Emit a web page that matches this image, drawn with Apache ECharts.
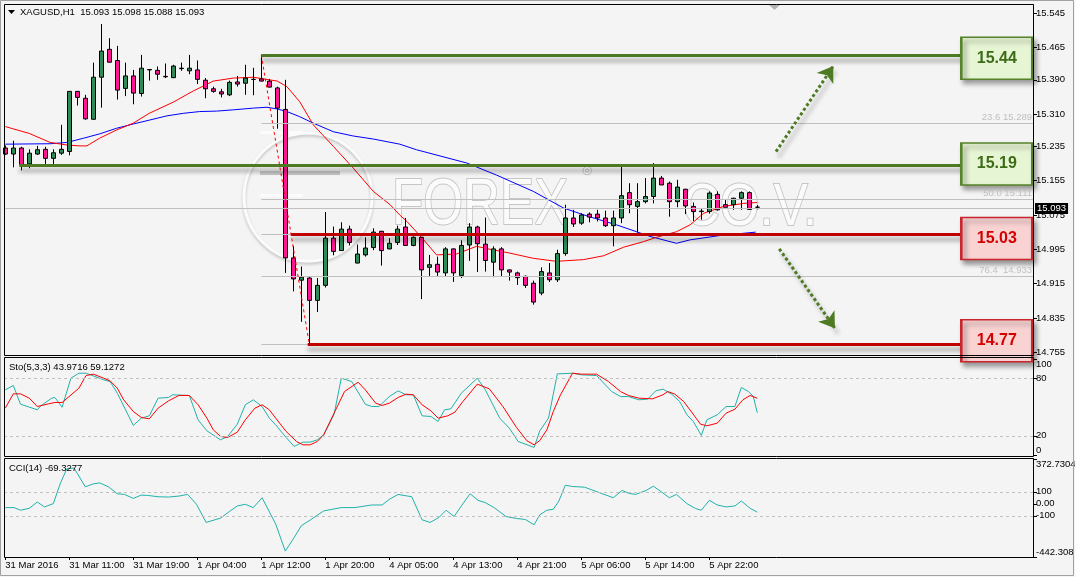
<!DOCTYPE html>
<html>
<head>
<meta charset="utf-8">
<script src="https://cdn.jsdelivr.net/npm/echarts@6.0.0/dist/echarts.min.js"></script>
<style>
  html, body { margin: 0; padding: 0; background: #f4f4f4; }
  #chart { width: 1075px; height: 577px; }
</style>
</head>
<body>
<div id="chart"></div>
<script>
// H1 bars, one row per bar: [open, high, low, close]
const ohlc = [
  [15.231, 15.237, 15.215, 15.217], [15.217, 15.248, 15.186, 15.231], [15.231, 15.234, 15.179, 15.192],
  [15.194, 15.228, 15.184, 15.219], [15.217, 15.236, 15.215, 15.227], [15.228, 15.234, 15.194, 15.207],
  [15.207, 15.228, 15.194, 15.220], [15.219, 15.285, 15.215, 15.228], [15.223, 15.363, 15.214, 15.363],
  [15.363, 15.364, 15.330, 15.349], [15.347, 15.355, 15.297, 15.299], [15.298, 15.430, 15.297, 15.396],
  [15.396, 15.520, 15.325, 15.457], [15.461, 15.487, 15.430, 15.431], [15.435, 15.469, 15.344, 15.366],
  [15.370, 15.430, 15.352, 15.399], [15.399, 15.413, 15.333, 15.359], [15.358, 15.448, 15.351, 15.417],
  [15.414, 15.414, 15.388, 15.413], [15.412, 15.421, 15.390, 15.403], [15.398, 15.428, 15.394, 15.397],
  [15.395, 15.425, 15.394, 15.422], [15.416, 15.430, 15.411, 15.417], [15.411, 15.448, 15.403, 15.417],
  [15.413, 15.435, 15.380, 15.391], [15.389, 15.394, 15.347, 15.369], [15.369, 15.374, 15.360, 15.363],
  [15.362, 15.369, 15.349, 15.357], [15.355, 15.388, 15.352, 15.384], [15.385, 15.399, 15.374, 15.380],
  [15.382, 15.425, 15.355, 15.394], [15.391, 15.418, 15.354, 15.391], [15.392, 15.448, 15.386, 15.387],
  [15.387, 15.392, 15.372, 15.373], [15.371, 15.374, 15.276, 15.324], [15.321, 15.390, 14.940, 14.975],
  [14.975, 15.003, 14.897, 14.926], [14.923, 14.955, 14.826, 14.930], [14.928, 14.930, 14.774, 14.876],
  [14.876, 14.928, 14.849, 14.911], [14.911, 15.082, 14.906, 15.021], [15.021, 15.048, 14.981, 14.990],
  [14.992, 15.058, 14.992, 15.042], [15.042, 15.050, 15.004, 15.011], [14.963, 15.006, 14.962, 14.984],
  [14.982, 15.023, 14.978, 14.998], [14.999, 15.044, 14.993, 15.035], [15.037, 15.038, 14.957, 14.992],
  [14.996, 15.021, 14.995, 15.009], [15.011, 15.050, 15.005, 15.042], [15.047, 15.068, 15.003, 15.004],
  [15.004, 15.025, 15.002, 15.023], [15.023, 15.024, 14.879, 14.947], [14.953, 14.982, 14.933, 14.959],
  [14.960, 14.978, 14.933, 14.942], [14.940, 15.000, 14.932, 14.996], [14.996, 14.997, 14.919, 14.940],
  [14.934, 15.016, 14.928, 15.004], [15.005, 15.056, 14.968, 15.047], [15.047, 15.050, 14.942, 15.008],
  [15.007, 15.069, 14.943, 14.969], [14.965, 15.002, 14.930, 14.996], [14.996, 15.000, 14.932, 14.947],
  [14.947, 14.948, 14.922, 14.942], [14.940, 14.943, 14.912, 14.929], [14.932, 14.934, 14.905, 14.911],
  [14.916, 14.922, 14.866, 14.872], [14.893, 14.953, 14.888, 14.943], [14.940, 14.963, 14.919, 14.924],
  [14.924, 14.994, 14.919, 14.985], [14.985, 15.099, 14.980, 15.068], [15.068, 15.087, 15.047, 15.054],
  [15.056, 15.079, 15.052, 15.075], [15.077, 15.081, 15.058, 15.070], [15.077, 15.087, 15.060, 15.068],
  [15.068, 15.085, 15.047, 15.050], [15.050, 15.085, 15.002, 15.068], [15.068, 15.188, 15.056, 15.120],
  [15.127, 15.149, 15.079, 15.099], [15.095, 15.149, 15.034, 15.106], [15.106, 15.161, 15.102, 15.118],
  [15.118, 15.196, 15.102, 15.161], [15.161, 15.166, 15.145, 15.145], [15.149, 15.153, 15.071, 15.106],
  [15.106, 15.157, 15.093, 15.140], [15.135, 15.136, 15.077, 15.096], [15.095, 15.104, 15.061, 15.083],
  [15.083, 15.091, 15.064, 15.084], [15.083, 15.130, 15.078, 15.126], [15.123, 15.130, 15.085, 15.087],
  [15.099, 15.112, 15.093, 15.093], [15.099, 15.115, 15.087, 15.114], [15.114, 15.130, 15.087, 15.127],
  [15.127, 15.130, 15.087, 15.088], [15.093, 15.098, 15.088, 15.093]
];

// moving averages, [bar, price]
const maFast = [[0,15.281],[3,15.265],[5.6,15.244],[7.7,15.238],[9.3,15.236],[10.2,15.236],[11.8,15.254],
  [13.9,15.273],[16,15.289],[18,15.312],[21,15.338],[23.5,15.364],[26,15.387],[28.5,15.394],[31,15.396],
  [34,15.387],[35.2,15.374],[36.8,15.339],[38.5,15.285],[41,15.235],[43.5,15.184],[46,15.13],[48.1,15.099],
  [49.3,15.075],[50.2,15.06],[52.3,15.017],[53.9,14.982],[56.4,14.984],[58.9,15.002],[60.6,14.995],
  [63.1,14.986],[66,14.974],[68.9,14.967],[72.3,14.971],[74.8,14.98],[77.3,15.0],[79.8,15.013],[81.4,15.023],
  [83.9,15.036],[85.6,15.052],[87.3,15.079],[89.8,15.095],[92.3,15.102],[94,15.104]];
const maSlow = [[0,15.24],[5.6,15.241],[7.7,15.244],[9.8,15.254],[11.8,15.264],[13.9,15.277],[16,15.287],
  [18,15.296],[20.2,15.306],[22.3,15.312],[24.3,15.316],[26.4,15.317],[28.5,15.32],[31,15.324],[32.7,15.326],
  [34,15.322],[35.2,15.316],[36.8,15.304],[38.5,15.289],[41,15.269],[43.5,15.259],[46,15.252],[49.3,15.24],
  [51.4,15.227],[57.7,15.196],[61.4,15.168],[66,15.13],[69.8,15.091],[73,15.071],[76.4,15.052],[78.9,15.036],
  [80.6,15.025],[83.9,15.009],[85.6,15.017],[89.3,15.027],[93.8,15.035]];

// Stochastic(5,3,3)
const stochMain = [[0,67.9],[1,72.4],[1.9,52.9],[4,47.1],[4.5,51.6],[5.8,59.2],[6.2,59.9],[7.1,49.8],[8.2,80],
  [9.2,85.2],[10.1,85.2],[12.3,78.3],[13.1,76.5],[14,64.4],[16,30.8],[17,38.4],[18,40.8],[19.1,59.2],[20.4,59.9],
  [20.9,62.7],[23,62],[24.1,36.6],[25.2,25.2],[26.9,15.8],[27.8,19.3],[29,32.1],[30,52.3],[31,57.5],[32.1,50.5],
  [33,38.4],[33.8,31.4],[35.1,18.3],[36.1,8.9],[37.2,13.4],[38.1,13.4],[39,15.8],[39.8,21],[41.1,42.5],[42,80],
  [43.3,76.5],[45,52.9],[45.8,50.5],[46.7,50.5],[48,60.9],[49.1,66.8],[50.1,62.7],[51,62.7],[52.1,40.8],
  [53.2,40.1],[54.1,34.9],[54.9,47.1],[55.7,48.1],[57,64.4],[59,80],[60,67.9],[61.8,38.4],[63,28],[64.1,14.1],
  [66.1,7.9],[66.8,25],[67.9,38.4],[69,84.5],[70.9,85.2],[72,83.5],[73.9,82.8],[75.8,66.1],[76.9,60.9],
  [77.9,60.9],[79.2,57.5],[80.3,58.2],[81.3,66.8],[82.2,68.6],[83.3,63.4],[84.3,55.7],[85.2,41.9],[86,34.9],
  [87,20.4],[87.7,36.6],[89,41.9],[90.1,50.5],[91.2,50.5],[92,70.3],[92.9,66.1],[93.5,60.9],[94,43.97]];
const stochSignal = [[0,48.8],[1,63.7],[1.9,63.7],[3,59.2],[4,50.5],[5.4,53.3],[6.2,54.7],[7.1,54.7],[9.2,69.6],
  [10.1,82.8],[11,84.2],[12.3,80],[13.1,77.2],[14,69.6],[14.8,57.5],[16,45.3],[17,39.1],[18,37.7],[19.1,48.8],
  [20.4,56.4],[21.7,62],[23,62],[24.1,52.3],[25.2,38.4],[26,26.2],[26.9,19.3],[27.8,18.3],[29,23.8],[30,36.6],
  [31.2,48.8],[32.1,52.3],[33,47.1],[33.8,38.4],[35.1,24.5],[36.4,14.1],[37.2,10.6],[38.1,10.6],[39,14.1],
  [39.8,21],[41.1,43.6],[42.4,66.1],[44.1,75.8],[45,67.9],[46.3,54],[47.1,51.6],[48,54],[49.1,59.9],[50.1,63.4],
  [51,62.7],[52.1,52.3],[53.2,46],[54.1,38.4],[55.3,40.8],[56.2,44.6],[57.2,55.7],[59,73.8],[60.5,68.9],
  [62.2,50.5],[63.9,28.7],[65.2,14.8],[66.1,10.6],[66.8,15],[67.7,26.2],[68.5,45.3],[69.4,62.7],[70.9,85.2],
  [72,84.2],[73.9,84.2],[75.4,76.5],[76.9,66.1],[77.9,62],[79.2,59.2],[80.9,58.5],[82.2,62.7],[82.8,66.1],
  [83.7,63.4],[84.8,55.7],[85.8,44.6],[86.9,32.1],[87.7,30.4],[89,33.2],[90.1,43.6],[91.2,47.7],[92.2,57.5],
  [93.1,62],[94,59.13]];

// CCI(14)
const cci = [[0,-31.5],[1.1,-31.5],[1.9,-53.4],[3,-37],[4,15.1],[4.9,-26],[6,1.4],[6.9,174],[7.7,291.8],
  [8.6,297.3],[10,141.1],[11,165.8],[11.8,174],[12.9,141.1],[14,83.6],[14.9,78.1],[16,45.2],[17,72.6],[17.8,69.9],
  [19.1,58.9],[20.4,56.2],[21.7,64.4],[22.8,78.1],[23.9,-4.1],[25.1,-154.8],[26.9,-119.2],[28,-64.4],[29,-17.8],
  [30,-4.1],[31,-31.5],[32.1,50.7],[33.8,-168.5],[35,-393.2],[36,-291.8],[37,-182.2],[38.1,-135.6],[39.8,-58.9],
  [42,-31.5],[43.7,-31.5],[45.8,-9.6],[47.1,-9.6],[48,37],[49.1,78.1],[50.8,58.9],[52.1,-132.9],[53.1,-154.8],
  [54.2,-113.7],[55.1,-53.4],[56.1,-105.5],[57,-17.8],[58.1,83.6],[59.1,28.8],[60,9.6],[61.1,-31.5],
  [62.6,-105.5],[63.9,-121.9],[65,-130.2],[66.1,-174],[66.8,-91.8],[67.7,-53.4],[68.5,-45.2],[69.2,23.3],
  [70,154.8],[70.9,143.8],[72.4,138.4],[74.3,91.8],[76,50.7],[77.1,111],[78,86.3],[78.8,78.1],[80.1,111],
  [81,146.6],[82,100],[83,50.7],[83.9,78.1],[85.2,1.4],[86.3,-39.7],[87,-53.4],[88,28.8],[89,-9.6],[90.1,-26],
  [91.2,-17.8],[92,23.3],[93.1,-37],[94,-69.33]];

// axes
const timeTickBars = [0, 8, 16, 24, 32, 40, 48, 56, 64, 72, 80, 88];
const timeTickLabels = ['31 Mar 2016', '31 Mar 11:00', '31 Mar 19:00', '1 Apr 04:00', '1 Apr 12:00', '1 Apr 20:00',
  '4 Apr 05:00', '4 Apr 13:00', '4 Apr 21:00', '5 Apr 06:00', '5 Apr 14:00', '5 Apr 22:00'];
const priceTicks = [14.755, 14.835, 14.915, 14.995, 15.075, 15.155, 15.235, 15.310, 15.390, 15.465, 15.545];
const stochTicks = [0, 20, 80, 100];
const cciTicks = [-442.308, -100, 0, 100, 372.7304];

// drawn levels
const resistance = [15.448, 15.191];
const support = [15.031, 14.774];
const levelBoxes = [['15.44', 15.44, 'g'], ['15.19', 15.194, 'g'], ['15.03', 15.02, 'r'], ['14.77', 14.782, 'r']];
const fibLevels = [['0.0', 15.448], ['23.6', 15.289], ['38.2', 15.191], ['50.0', 15.111], ['61.8', 15.031],
  ['76.4', 14.933], ['100.0', 14.774]];
const fibShown = ['23.6', '50.0', '76.4'];
const bid = 15.093;

const xMin = -0.1625, xMax = 128.4625;
const font = '"Liberation Sans", Arial, sans-serif';
const green = '#4d7a22', red = '#c00000';
const shadow = { shadowColor: 'rgba(0,0,0,0.35)', shadowBlur: 4, shadowOffsetY: 5 };

const chart = echarts.init(document.getElementById('chart'));

const xAxisBase = { type: 'value', min: xMin, max: xMax, splitLine: { show: false } };
const yLabel = { color: '#000', fontSize: 9.5, fontFamily: font, margin: 3 };

const levelLines = [];
[[resistance[0], 32, green], [resistance[1], 1.75, green], [support[0], 35.7, red], [support[1], 37.8, red]]
  .forEach(([p, from, c]) => {
    levelLines.push([
      { coord: [from, p], lineStyle: Object.assign({ color: c, width: 3, type: 'solid' }, shadow) },
      { coord: [124, p] }
    ]);
  });
// fib trend line
levelLines.push([
  { coord: [32, 15.448], lineStyle: { color: '#ff0000', width: 1, type: [3, 3] } },
  { coord: [38, 14.774] }
]);
// arrows
[[[96.34, 15.2226], [103.5, 15.4222]], [[96.75, 14.996], [103.7, 14.811]]].forEach(([a, b]) => {
  levelLines.push([
    { coord: a, symbol: 'none', lineStyle: Object.assign({ color: green, width: 3, type: [3, 2.5] }, shadow, { shadowOffsetX: 3 }) },
    { coord: b, symbol: 'arrow', symbolSize: 15 }
  ]);
});

const fibLines = fibLevels.map(([pct, p]) => [
  { coord: [32, p], lineStyle: { color: '#c0c0c0', width: 1, type: 'solid' },
    label: { show: fibShown.includes(pct), position: 'insideEndTop', distance: 1,
      formatter: pct + (pct === '76.4' ? '  ' : ' ') + p.toFixed(3), color: '#c0c0c0', fontSize: 9.5, fontFamily: font } },
  { coord: [xMax, p] }
]);

const wmText = { fill: '#fbfbfb', stroke: '#c6c6c6', lineWidth: 2, shadowColor: 'rgba(0,0,0,0.22)', shadowBlur: 3, shadowOffsetY: 3 };

const option = {
  animation: false,
  backgroundColor: '#f4f4f4',
  grid: [
    { left: 4, right: 42, top: 5, height: 350, outerBoundsMode: 'none', containLabel: false },
    { left: 4, right: 42, top: 359, height: 96, outerBoundsMode: 'none', containLabel: false },
    { left: 4, right: 42, top: 459, height: 98, outerBoundsMode: 'none', containLabel: false }
  ],
  xAxis: [
    Object.assign({ gridIndex: 0, show: false }, xAxisBase),
    Object.assign({ gridIndex: 1, show: false }, xAxisBase),
    Object.assign({ gridIndex: 2, position: 'bottom', axisLine: { show: false, onZero: false },
      axisTick: { show: true, customValues: timeTickBars, length: 3, lineStyle: { color: '#000' } },
      axisLabel: { customValues: timeTickBars, formatter: v => timeTickLabels[timeTickBars.indexOf(v)],
        align: 'left', margin: 3, color: '#000', fontSize: 9.5, fontFamily: font } }, xAxisBase)
  ],
  yAxis: [
    { type: 'value', gridIndex: 0, position: 'right', min: 14.7487, max: 15.5643, splitLine: { show: false },
      axisLine: { show: true, onZero: false, lineStyle: { color: '#000' } },
      axisTick: { show: true, customValues: priceTicks, length: 4, lineStyle: { color: '#000' } },
      axisLabel: Object.assign({ customValues: priceTicks, formatter: v => v.toFixed(3) }, yLabel) },
    { type: 'value', gridIndex: 1, position: 'right', min: 0, max: 100, splitLine: { show: false },
      axisLine: { show: true, onZero: false, lineStyle: { color: '#000' } },
      axisTick: { show: true, customValues: stochTicks, length: 4, lineStyle: { color: '#000' } },
      axisLabel: Object.assign({ customValues: stochTicks, verticalAlignMaxLabel: 'top', verticalAlignMinLabel: 'bottom' }, yLabel) },
    { type: 'value', gridIndex: 2, position: 'right', min: -442.308, max: 372.7304, splitLine: { show: false },
      axisLine: { show: true, onZero: false, lineStyle: { color: '#000' } },
      axisTick: { show: true, customValues: cciTicks, length: 4, lineStyle: { color: '#000' } },
      axisLabel: Object.assign({ customValues: cciTicks, verticalAlignMaxLabel: 'top', verticalAlignMinLabel: 'bottom',
        formatter: v => (v === 0 ? '0.00' : String(v)) }, yLabel) }
  ],
  series: [
    {
      type: 'candlestick', xAxisIndex: 0, yAxisIndex: 0, z: 3, barWidth: 5, clip: true,
      data: ohlc.map((r, i) => [i, r[0], r[3], r[2], r[1]]),
      itemStyle: { color: '#2e8b57', color0: '#ff1493', borderColor: '#000', borderColor0: '#000',
        borderColorDoji: '#000', borderWidth: 1 },
      markLine: {
        silent: true, symbol: 'none', animation: false, label: { show: false },
        data: fibLines.concat([{ yAxis: bid, lineStyle: { color: '#c0c0c0', width: 1, type: 'solid' },
          label: { show: true, position: 'end', distance: 2, formatter: bid.toFixed(3), backgroundColor: '#000',
            color: '#fff', padding: [1, 2, 0, 2], fontSize: 9.5, fontFamily: font } }])
      }
    },
    { type: 'line', xAxisIndex: 0, yAxisIndex: 0, z: 2, data: maSlow, showSymbol: false, symbol: 'none',
      lineStyle: { color: '#0000ff', width: 1 } },
    { type: 'line', xAxisIndex: 0, yAxisIndex: 0, z: 2, data: maFast, showSymbol: false, symbol: 'none',
      lineStyle: { color: '#ff0000', width: 1 } },
    {
      type: 'line', xAxisIndex: 0, yAxisIndex: 0, z: 5, data: [],
      markLine: { silent: true, symbol: 'none', animation: false, label: { show: false }, data: levelLines }
    },
    {
      type: 'line', xAxisIndex: 0, yAxisIndex: 0, z: 10, data: [],
      markPoint: {
        silent: true, animation: false,
        data: levelBoxes.map(([txt, p, kind]) => ({
          coord: [123.94, p], symbol: 'rect', symbolSize: [71, 42],
          itemStyle: {
            color: kind === 'g' ? '#e6f5d4' : '#f9d2d2', borderColor: kind === 'g' ? '#56832a' : '#c8262c',
            borderWidth: 2, shadowColor: 'rgba(0,0,0,0.4)', shadowBlur: 5, shadowOffsetX: 3, shadowOffsetY: 4
          },
          label: { show: true, position: 'inside', formatter: txt, color: kind === 'g' ? '#3e6b16' : '#d40000',
            fontSize: 16, fontWeight: 'bold', fontFamily: font }
        }))
      }
    },
    { type: 'line', xAxisIndex: 1, yAxisIndex: 1, data: stochMain, showSymbol: false, symbol: 'none',
      lineStyle: { color: '#20b2aa', width: 1 },
      markLine: { silent: true, symbol: 'none', animation: false, label: { show: false },
        lineStyle: { color: '#c0c0c0', type: [3, 3], width: 1 }, data: [{ yAxis: 80 }, { yAxis: 20 }] } },
    { type: 'line', xAxisIndex: 1, yAxisIndex: 1, data: stochSignal, showSymbol: false, symbol: 'none',
      lineStyle: { color: '#ff0000', width: 1 } },
    { type: 'line', xAxisIndex: 2, yAxisIndex: 2, data: cci, showSymbol: false, symbol: 'none',
      lineStyle: { color: '#20b2aa', width: 1 },
      markLine: { silent: true, symbol: 'none', animation: false, label: { show: false },
        lineStyle: { color: '#c0c0c0', type: [3, 3], width: 1 }, data: [{ yAxis: 100 }, { yAxis: -100 }] } }
  ],
  graphic: [
    // watermark
    { type: 'circle', z: 0, silent: true, shape: { cx: 308, cy: 197, r: 64 },
      style: { fill: 'none', stroke: '#fbfbfb', lineWidth: 3, shadowColor: 'rgba(0,0,0,0.2)', shadowBlur: 3, shadowOffsetY: 2 } },
    { type: 'rect', z: 0, silent: true, shape: { x: 260, y: 171, width: 80, height: 4 }, style: { fill: '#c8c8c8' } },
    { type: 'rect', z: 0, silent: true, shape: { x: 260, y: 194, width: 43, height: 3 }, style: { fill: '#fbfbfb' } },
    { type: 'rect', z: 0, silent: true, shape: { x: 260, y: 131, width: 42, height: 3 }, style: { fill: '#fbfbfb' } },
    { type: 'text', z: 0, silent: true, x: 392, y: 174, scaleX: 0.8, style: Object.assign({ text: 'FOREX', font: 'normal 64px ' + font }, wmText) },
    { type: 'text', z: 0, silent: true, x: 582, y: 165, style: Object.assign({ text: '°', font: 'normal 26px ' + font }, wmText) },
    { type: 'text', z: 0, silent: true, x: 683, y: 178, scaleX: 0.85, style: Object.assign({ text: 'CO.V.', font: 'normal 60px ' + font }, wmText) },
    // panel frames
    { type: 'rect', z: 8, silent: true, shape: { x: 4.5, y: 4.5, width: 1029, height: 351 }, style: { fill: 'none', stroke: '#000' } },
    { type: 'rect', z: 8, silent: true, shape: { x: 4.5, y: 357.5, width: 1029, height: 99 }, style: { fill: 'none', stroke: '#000' } },
    { type: 'rect', z: 8, silent: true, shape: { x: 4.5, y: 458.5, width: 1029, height: 99 }, style: { fill: 'none', stroke: '#000' } },
    { type: 'rect', z: 8, silent: true, shape: { x: 0.5, y: 0.5, width: 1073, height: 575 }, style: { fill: 'none', stroke: '#a0a0a0' } },
    // chart shift marker
    { type: 'polygon', z: 8, silent: true, shape: { points: [[769, 5], [780, 5], [774.5, 10]] }, style: { fill: '#b4b4b4' } },
    // headers
    { type: 'polygon', z: 8, silent: true, shape: { points: [[8, 10], [15, 10], [11.5, 14]] }, style: { fill: '#000' } },
    { type: 'text', z: 8, silent: true, x: 20, y: 7,
      style: { text: 'XAGUSD,H1  15.093 15.098 15.088 15.093', font: '9.5px ' + font, fill: '#000' } },
    { type: 'text', z: 8, silent: true, x: 9, y: 362,
      style: { text: 'Sto(5,3,3) 43.9716 59.1272', font: '9.5px ' + font, fill: '#000' } },
    { type: 'text', z: 8, silent: true, x: 9, y: 463,
      style: { text: 'CCI(14) -69.3277', font: '9.5px ' + font, fill: '#000' } }
  ]
};

chart.setOption(option);
</script>
</body>
</html>
